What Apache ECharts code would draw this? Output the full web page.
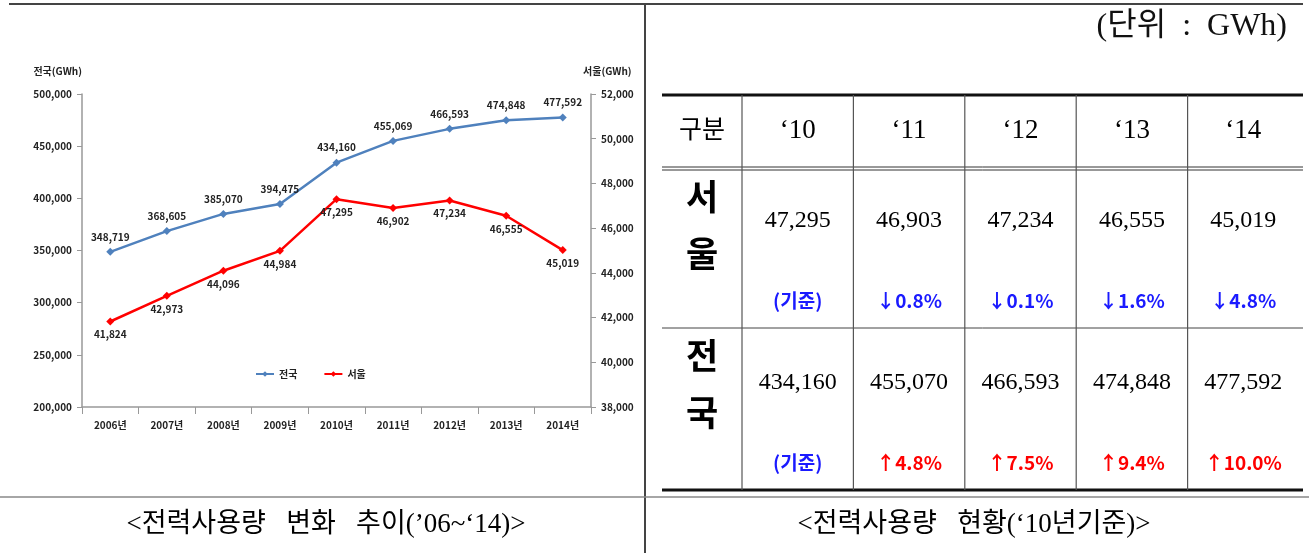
<!DOCTYPE html>
<html>
<head>
<meta charset="utf-8">
<script src="https://cdn.jsdelivr.net/npm/echarts@6/dist/echarts.min.js"></script>
<style>
html, body { margin: 0; padding: 0; background: #fff; }
#main { width: 1309px; height: 553px; }
</style>
</head>
<body>
<div id="main"></div>
<script>
// chart data
var years = ['2006년', '2007년', '2008년', '2009년', '2010년', '2011년', '2012년', '2013년', '2014년'];
var nationUse = [348719, 368605, 385070, 394475, 434160, 455069, 466593, 474848, 477592];
var seoulUse = [41824, 42973, 44096, 44984, 47295, 46902, 47234, 46555, 45019];

// table data
var tableYears = ['‘10', '‘11', '‘12', '‘13', '‘14'];
var seoulTable = ['47,295', '46,903', '47,234', '46,555', '45,019'];
var seoulChange = ['(기준)', '↓0.8%', '↓0.1%', '↓1.6%', '↓4.8%'];
var nationTable = ['434,160', '455,070', '466,593', '474,848', '477,592'];
var nationChange = ['(기준)', '↑4.8%', '↑7.5%', '↑9.4%', '↑10.0%'];

var SANS = '"Noto Sans CJK KR", "Noto Sans", sans-serif';
var SERIF = '"Liberation Serif", "DejaVu Serif", "Noto Sans CJK KR", serif';

function commas(v) { return String(v).replace(/\B(?=(\d{3})+(?!\d))/g, ','); }

var myChart = echarts.init(document.getElementById('main'));

// table layout
var tL = 662, tR = 1303, c0 = 742, colW = 111.4;
var rowTop = 95, rowHead = 168, rowMid = 328, rowBot = 490;
var g = [];
function hline(y, x1, x2, w, c) { g.push({type: 'line', shape: {x1: x1, y1: y, x2: x2, y2: y}, style: {stroke: c, lineWidth: w}, silent: true}); }
function vline(x, y1, y2, w, c) { g.push({type: 'line', shape: {x1: x, y1: y1, x2: x, y2: y2}, style: {stroke: c, lineWidth: w}, silent: true}); }
function txt(x, y, s, font, color, align) {
    g.push({type: 'text', silent: true, style: {x: x, y: y, text: s, font: font, fill: color || '#000', align: align || 'center', verticalAlign: 'middle'}});
}

// frame
hline(4, 9, 1303, 2, '#444');
vline(645, 4, 553, 2, '#444');
hline(497, 0, 1309, 1.5, '#888');

// table rules
hline(rowTop, tL, tR, 3, '#111');
hline(rowHead - 1, tL, tR, 1, '#333');
hline(rowHead + 2, tL, tR, 1, '#333');
hline(rowMid, tL, tR, 1, '#444');
hline(rowBot, tL, tR, 3, '#111');
for (var i = 0; i < tableYears.length; i++) {
    vline(c0 + i * colW, rowTop, rowBot, 1.2, '#555');
}

txt(1287, 27, '(단위  :  GWh)', '32px ' + SERIF, '#111', 'right');
txt(702, 131, '구분', '25px ' + SERIF);
txt(702, 197, '서', 'bold 35px ' + SANS);
txt(702, 254, '울', 'bold 35px ' + SANS);
txt(702, 356, '전', 'bold 35px ' + SANS);
txt(702, 413, '국', 'bold 35px ' + SANS);

for (var j = 0; j < tableYears.length; j++) {
    var cx = c0 + colW * (j + 0.5);
    txt(cx, 131, tableYears[j], '27px ' + SERIF);
    txt(cx, 221, seoulTable[j], '24px ' + SERIF);
    txt(cx, 301, seoulChange[j], 'bold 19px ' + SANS, seoulChange[j].indexOf('↑') === 0 ? '#ff0000' : '#1a1aff');
    txt(cx, 383, nationTable[j], '24px ' + SERIF);
    txt(cx, 463, nationChange[j], 'bold 19px ' + SANS, nationChange[j].indexOf('↑') === 0 ? '#ff0000' : '#1a1aff');
}

// captions
txt(326, 525, '<전력사용량   변화   추이(’06~‘14)>', '27px ' + SERIF);
txt(974, 525, '<전력사용량   현황(‘10년기준)>', '27px ' + SERIF);

var labelStyle = {fontFamily: SANS, fontSize: 10, fontWeight: 'bold', color: '#222'};

var option = {
    animation: false,
    backgroundColor: '#fff',
    textStyle: {fontFamily: SANS},
    legend: {
        left: 250, top: 364,
        itemWidth: 18, itemHeight: 7, itemGap: 26,
        textStyle: {fontFamily: SANS, fontSize: 10, color: '#222', fontWeight: 'bold'},
        data: ['전국', '서울']
    },
    grid: {left: 82, right: 718, top: 94, bottom: 146},
    xAxis: {
        type: 'category',
        data: years,
        boundaryGap: true,
        axisLine: {lineStyle: {color: '#999', width: 1.5}},
        axisTick: {show: true, length: 7, lineStyle: {color: '#999'}},
        axisLabel: {margin: 13, fontFamily: SANS, fontSize: 10, fontWeight: 'bold', color: '#222'}
    },
    yAxis: [{
        type: 'value',
        min: 200000, max: 500000, interval: 50000,
        name: '전국(GWh)',
        nameLocation: 'end', nameGap: 18,
        nameTextStyle: {align: 'right', fontFamily: SANS, fontSize: 10, fontWeight: 'bold', color: '#222'},
        axisLine: {show: true, lineStyle: {color: '#999', width: 1.5}},
        axisTick: {show: true, length: 5, lineStyle: {color: '#999'}},
        splitLine: {show: false},
        axisLabel: {margin: 10, fontFamily: SANS, fontSize: 10, fontWeight: 'bold', color: '#222', formatter: commas}
    }, {
        type: 'value',
        position: 'right',
        min: 38000, max: 52000, interval: 2000,
        name: '서울(GWh)',
        nameLocation: 'end', nameGap: 18,
        nameTextStyle: {align: 'left', padding: [0, 0, 0, -8], fontFamily: SANS, fontSize: 10, fontWeight: 'bold', color: '#222'},
        axisLine: {show: true, lineStyle: {color: '#999', width: 1.5}},
        axisTick: {show: true, length: 5, lineStyle: {color: '#999'}},
        splitLine: {show: false},
        axisLabel: {margin: 10, fontFamily: SANS, fontSize: 10, fontWeight: 'bold', color: '#222', formatter: commas}
    }],
    series: [{
        name: '전국',
        type: 'line',
        yAxisIndex: 0,
        data: nationUse,
        symbol: 'diamond', symbolSize: 8,
        lineStyle: {color: '#4f81bd', width: 2.5},
        itemStyle: {color: '#4f81bd'},
        label: Object.assign({show: true, position: 'top', distance: 6, formatter: function (p) { return commas(p.value); }}, labelStyle)
    }, {
        name: '서울',
        type: 'line',
        yAxisIndex: 1,
        data: seoulUse,
        symbol: 'diamond', symbolSize: 8,
        lineStyle: {color: '#ff0000', width: 2.5},
        itemStyle: {color: '#ff0000'},
        label: Object.assign({show: true, position: 'bottom', distance: 4, formatter: function (p) { return commas(p.value); }}, labelStyle)
    }],
    graphic: g
};

myChart.setOption(option);
</script>
</body>
</html>
